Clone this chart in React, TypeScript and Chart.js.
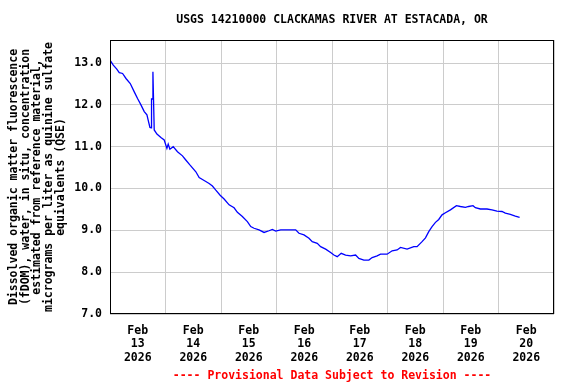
import React, { useEffect, useRef } from 'react';
import { Chart, registerables } from 'chart.js';

Chart.register(...registerables);

const TITLE = 'USGS 14210000 CLACKAMAS RIVER AT ESTACADA, OR';
const Y_TITLE = [
  'Dissolved organic matter fluorescence',
  '(fDOM), water, in situ, concentration',
  'estimated from reference material,',
  'micrograms per liter as quinine sulfate',
  'equivalents (QSE)',
];
const FOOTER = '---- Provisional Data Subject to Revision ----';
const MONTH = 'Feb';
const YEAR = '2026';
const DAYS = ['13', '14', '15', '16', '17', '18', '19', '20'];
const Y_TICKS = [7, 8, 9, 10, 11, 12, 13];

// hours since Feb 13 00:00
const HOURS = [
  0, 1.42, 2.85, 4.01, 5.44, 6.91, 8.76, 10.49, 11.91, 13.38, 14.81, 15.97, 16.66, 17.27,
  17.83, 17.96, 18.39, 18.56, 18.82, 19.12,
  20.29, 22.02, 23.44, 24.61, 25.17, 25.9, 27.33, 29.18, 31.34, 32.51, 34.45,
  37.13, 38.55, 40.71, 42.87, 44.29, 45.76, 47.62, 49.34, 51.5, 53.66, 55.09, 57.24, 59.4,
  60.87, 62.29, 64.45, 66.61, 68.77, 70.19, 71.66, 73.82, 80.3, 81.72, 83.88, 86.04, 87.46,
  89.62, 91.09, 93.25, 95.41, 96.83, 98.26, 99.98, 101.88, 104.04, 106.2, 107.62, 109.78,
  111.94, 113.36, 115.52, 116.99, 119.84, 122.0, 124.16, 125.63, 128.47, 131.37, 132.79,
  134.95, 136.42, 137.84, 139.27, 140.74, 142.16, 143.58, 145.05, 147.21, 149.8, 151.53,
  153.69, 155.11, 156.97, 158.0, 160.16, 163.01, 165.17, 167.33, 169.49, 170.96, 173.12,
  175.27, 177.13,
];
const FDOM = [
  13.07, 12.95, 12.86, 12.77, 12.75, 12.63, 12.51, 12.31, 12.15, 12.0, 11.84, 11.76, 11.6, 11.46,
  11.45, 12.14, 12.14, 12.79, 12.14, 11.4,
  11.3, 11.22, 11.16, 10.96, 11.06, 10.94, 11.0, 10.88, 10.78, 10.7, 10.57,
  10.4, 10.26, 10.19, 10.12, 10.06, 9.96, 9.84, 9.75, 9.61, 9.54, 9.43, 9.33, 9.21,
  9.09, 9.05, 9.01, 8.95, 8.99, 9.02, 8.98, 9.01, 9.01, 8.93, 8.89, 8.81, 8.73,
  8.69, 8.61, 8.55, 8.47, 8.41, 8.37, 8.45, 8.41, 8.39, 8.41, 8.33, 8.29,
  8.29, 8.35, 8.39, 8.43, 8.43, 8.51, 8.53, 8.59, 8.55, 8.61, 8.61,
  8.73, 8.82, 8.97, 9.09, 9.19, 9.26, 9.37, 9.42, 9.49, 9.59, 9.57,
  9.55, 9.57, 9.59, 9.54, 9.51, 9.51, 9.49, 9.46, 9.45, 9.41, 9.38,
  9.34, 9.31,
];

const FONT_FAMILY = "'DejaVu Sans Mono', 'Liberation Mono', monospace";

const framePlugin = {
  id: 'frame',
  afterDraw(chart: any) {
    const { ctx, chartArea } = chart;
    const { left, top, right, bottom } = chartArea;
    ctx.save();
    ctx.strokeStyle = '#000';
    ctx.lineWidth = 1;
    ctx.strokeRect(Math.round(left) + 0.5, Math.round(top) + 0.5, Math.round(right - left) - 1, Math.round(bottom - top) - 1);
    ctx.restore();
  },
};

export default function App() {
  const ref = useRef<HTMLCanvasElement>(null);

  useEffect(() => {
    if (!ref.current) return;
    const points = HOURS.map((h, i) => ({ x: h, y: FDOM[i] }));
    const font = { family: FONT_FAMILY, size: 11.5, weight: 'bold' as const };
    const chart = new Chart(ref.current, {
      type: 'line',
      data: {
        datasets: [
          {
            data: points,
            borderColor: '#0000ff',
            borderWidth: 1.3,
            pointRadius: 0,
            tension: 0,
            fill: false,
          },
        ],
      },
      plugins: [framePlugin],
      options: {
        animation: false,
        responsive: false,
        layout: { padding: { left: 0, right: 22, top: 0, bottom: 0 } },
        plugins: {
          legend: { display: false },
          tooltip: { enabled: false },
          title: { display: false },
        },
        scales: {
          x: {
            type: 'linear',
            position: 'bottom',
            min: 0,
            max: 192,
            afterBuildTicks: (scale: any) => {
              const t = [];
              for (let v = 0; v <= 192; v += 12) t.push({ value: v });
              scale.ticks = t;
            },
            afterFit: (scale: any) => {
              scale.height = 70;
            },
            grid: {
              drawTicks: false,
              color: (ctx: any) => (ctx.tick && ctx.tick.value % 24 === 0 ? '#cccccc' : 'rgba(0,0,0,0)'),
            },
            border: { display: false },
            ticks: {
              autoSkip: false,
              maxRotation: 0,
              padding: 10,
              color: '#000',
              font: { ...font, lineHeight: '13.5px' },
              callback: (value: any) => {
                const v = Number(value);
                if (v % 24 !== 12) return '';
                const d = Math.floor(v / 24);
                return [MONTH, DAYS[d], YEAR];
              },
            },
            title: {
              display: true,
              text: FOOTER,
              color: '#ff0000',
              font: { ...font, lineHeight: '12px' },
              padding: { top: 0, bottom: 2 },
            },
          },
          x2: {
            type: 'linear',
            position: 'top',
            min: 0,
            max: 192,
            afterFit: (scale: any) => {
              scale.height = 40;
            },
            grid: { display: false, drawTicks: false },
            border: { display: false },
            ticks: { display: false },
            title: {
              display: true,
              text: TITLE,
              color: '#000',
              font: { ...font, lineHeight: '12px' },
              padding: { top: 14, bottom: 0 },
            },
          },
          y: {
            type: 'linear',
            min: 7,
            max: 13.55,
            afterBuildTicks: (scale: any) => {
              scale.ticks = Y_TICKS.map((v) => ({ value: v }));
            },
            afterFit: (scale: any) => {
              scale.width = 110;
            },
            grid: { drawTicks: false, color: '#cccccc' },
            border: { display: false },
            ticks: {
              padding: 8,
              color: '#000',
              font,
              callback: (value: any) => Number(value).toFixed(1),
            },
            title: {
              display: true,
              text: Y_TITLE,
              color: '#000',
              font: { ...font, lineHeight: '11.8px' },
              padding: { top: 8, bottom: 0 },
            },
          },
        },
      },
    });
    return () => chart.destroy();
  }, []);

  return (
    <div style={{ position: 'absolute', left: 0, top: 0, width: 576, height: 384, background: '#fff' }}>
      <canvas ref={ref} width={576} height={384} style={{ display: 'block', width: 576, height: 384 }} />
    </div>
  );
}
